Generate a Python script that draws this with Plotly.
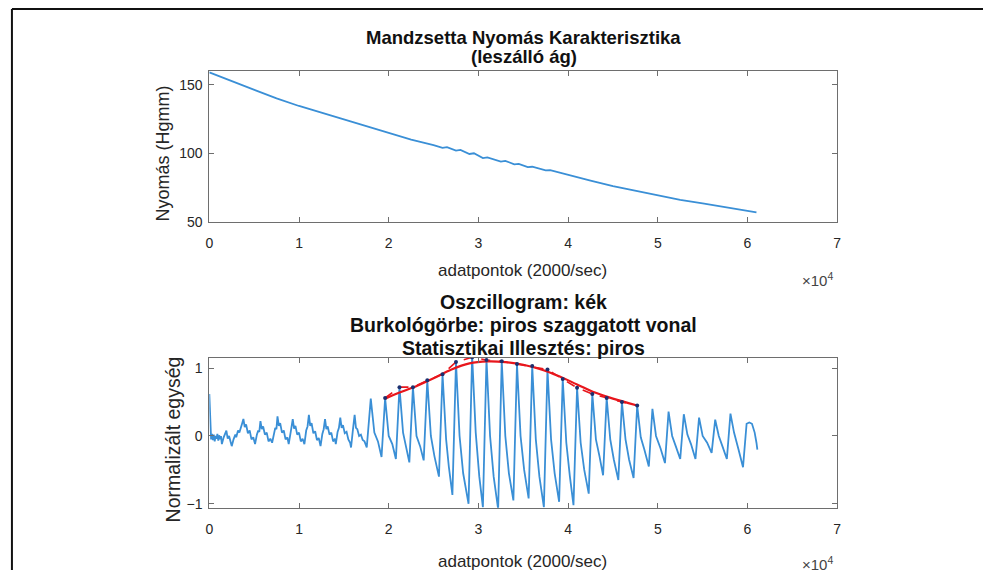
import plotly.graph_objects as go

W, H = 987, 578

# ---------------- data (x in units of 10^4 samples) ----------------
press_x = [0.00, 0.25, 0.50, 0.75, 1.00, 1.25, 1.50, 1.75, 2.00, 2.25, 2.50, 2.60, 2.65, 2.75, 2.80,
           2.90, 2.95, 3.05, 3.10, 3.25, 3.30, 3.40, 3.45, 3.55, 3.60, 3.75, 3.80, 3.95, 4.00, 4.25,
           4.50, 4.75, 5.00, 5.25, 5.50, 5.75, 6.00, 6.10]
press_y = [159.0, 152.5, 146.0, 140.0, 134.5, 129.5, 124.5, 119.5, 114.5, 110.0, 106.0, 104.0, 104.5, 102.0, 102.5,
           99.5, 100.0, 96.5, 97.0, 94.0, 94.5, 92.0, 92.3, 90.0, 90.2, 87.5, 87.7, 85.0, 84.0, 80.0,
           76.0, 72.5, 69.0, 66.0, 63.5, 61.0, 58.0, 57.0]

osc_x = [0.000, 0.006, 0.012, 0.02, 0.03, 0.04, 0.05, 0.06, 0.07, 0.08, 0.09, 0.10, 0.11, 0.12, 0.13,
         0.14, 0.16, 0.175, 0.19, 0.205, 0.22, 0.24, 0.25, 0.27, 0.29, 0.30, 0.32, 0.335, 0.35, 0.365,
         0.38, 0.395, 0.41, 0.43, 0.45, 0.47, 0.49, 0.51, 0.53, 0.545, 0.557, 0.57, 0.585, 0.60, 0.62,
         0.64, 0.66, 0.68, 0.70, 0.72, 0.735, 0.748, 0.76, 0.775, 0.79, 0.81, 0.83, 0.85, 0.87, 0.885,
         0.90, 0.915, 0.93, 0.945, 0.96, 0.98, 1.00, 1.02, 1.04, 1.06, 1.08, 1.095, 1.11, 1.125, 1.14,
         1.16, 1.18, 1.20, 1.22, 1.24, 1.26, 1.275, 1.29, 1.305, 1.32, 1.34, 1.36, 1.38, 1.40, 1.41,
         1.43, 1.445, 1.46, 1.475, 1.49, 1.51, 1.53, 1.55, 1.57, 1.58, 1.60, 1.62, 1.635, 1.65, 1.67,
         1.69, 1.71, 1.73, 1.755, 1.77, 1.80,
         1.84, 1.88, 1.92, 1.96, 2.00, 2.04, 2.08, 2.12, 2.16, 2.19, 2.23, 2.27, 2.31, 2.35, 2.39,
         2.43, 2.47, 2.51, 2.56, 2.60, 2.64, 2.67, 2.71, 2.75, 2.79, 2.83, 2.89, 2.93, 2.97, 3.01,
         3.05, 3.09, 3.13, 3.17, 3.22, 3.26, 3.30, 3.34, 3.39, 3.43, 3.47, 3.51, 3.56, 3.60, 3.64,
         3.68, 3.73, 3.77, 3.81, 3.85, 3.90, 3.94, 3.98, 4.02, 4.06, 4.10, 4.14, 4.18, 4.23, 4.27,
         4.31, 4.35, 4.39, 4.43, 4.47, 4.51, 4.56, 4.60, 4.64, 4.68, 4.73, 4.77, 4.81, 4.85, 4.90,
         4.94, 4.98, 5.03, 5.08, 5.12, 5.16, 5.20, 5.25, 5.29, 5.33, 5.37, 5.42, 5.46, 5.50, 5.55,
         5.60, 5.64, 5.68, 5.72, 5.77, 5.81, 5.85, 5.90, 5.95, 5.99, 6.02, 6.05, 6.08, 6.10, 6.11]
osc_y = [0.62, 0.30, 0.05, -0.05, 0.03, -0.06, 0.02, -0.08, 0.00, -0.04, 0.03, -0.07, 0.01, -0.05, 0.00,
         -0.12, -0.02, 0.04, 0.08, -0.04, 0.00, -0.10, -0.15, -0.05, 0.02, -0.02, 0.08, 0.05, 0.14, 0.18,
         0.25, 0.13, 0.17, 0.04, 0.08, -0.05, -0.02, -0.12, 0.02, 0.08, 0.06, 0.22, 0.10, 0.14, 0.02,
         0.05, -0.08, -0.04, -0.10, 0.06, 0.12, 0.10, 0.29, 0.15, 0.19, 0.05, 0.08, -0.05, -0.02, -0.12,
         0.04, 0.12, 0.25, 0.11, 0.15, 0.02, 0.05, -0.08, -0.04, -0.12, 0.08, 0.14, 0.31, 0.15, 0.19,
         0.04, 0.07, -0.06, -0.03, -0.15, 0.03, 0.10, 0.25, 0.10, 0.14, 0.02, 0.05, -0.08, -0.04, -0.12,
         0.06, 0.12, 0.27, 0.12, 0.16, 0.04, 0.06, -0.05, -0.10, -0.17, 0.08, 0.31, 0.12, 0.10, 0.00,
         0.02, -0.06, -0.08, -0.17, 0.10, 0.55,
         0.05, -0.08, -0.31, 0.56, 0.00, -0.12, -0.34, 0.72, 0.05, -0.15, -0.39, 0.72, 0.00, -0.15, -0.36,
         0.82, 0.00, -0.30, -0.60, 0.91, -0.05, -0.45, -0.87, 1.09, 0.00, -0.55, -1.00, 1.18, 0.05, -0.60,
         -1.05, 1.13, 0.00, -0.60, -1.08, 1.11, 0.00, -0.55, -0.95, 1.06, 0.00, -0.50, -0.92, 1.03, -0.05,
         -0.60, -1.05, 0.98, -0.05, -0.55, -0.97, 0.84, -0.10, -0.60, -1.02, 0.71, -0.10, -0.50, -0.85, 0.62,
         -0.05, -0.30, -0.58, 0.56, -0.05, -0.35, -0.65, 0.50, -0.05, -0.35, -0.62, 0.45, -0.02, -0.20, -0.45,
         0.40, 0.00, -0.18, -0.40, 0.36, 0.00, -0.15, -0.34, 0.32, 0.02, -0.12, -0.34, 0.27, 0.00, -0.10,
         -0.25, 0.24, 0.00, -0.15, -0.34, 0.33, 0.05, -0.20, -0.46, 0.18, 0.20, 0.18, 0.05, -0.10, -0.20]

env_x = [1.96, 2.12, 2.27, 2.43, 2.60, 2.75, 2.93, 3.09, 3.26, 3.43, 3.60, 3.77, 3.94, 4.10, 4.27, 4.43, 4.60, 4.77]
env_y = [0.56, 0.72, 0.72, 0.82, 0.91, 1.09, 1.16, 1.12, 1.10, 1.06, 1.03, 0.98, 0.84, 0.71, 0.62, 0.56, 0.50, 0.45]

fit_x = [1.96, 2.10, 2.30, 2.50, 2.70, 2.90, 3.10, 3.30, 3.50, 3.70, 3.90, 4.10, 4.30, 4.50, 4.77]
fit_y = [0.55, 0.63, 0.73, 0.85, 0.98, 1.07, 1.10, 1.09, 1.05, 0.98, 0.88, 0.76, 0.64, 0.55, 0.45]

x_ticks = [0, 1, 2, 3, 4, 5, 6, 7]
top_yticks = [50, 100, 150]
bot_yticks = [-1, 0, 1]

# ---------------- styling ----------------
BLUE = "#3a8fd6"
RED = "#e8161c"
AXC = "#6e6e6e"
TXT = "#262626"
FONT = "Liberation Sans, Arial, sans-serif"

def px(x):
    return x / W

def py(y):
    return 1 - y / H

fig = go.Figure()
fig.add_trace(go.Scatter(x=press_x, y=press_y, mode="lines", line=dict(color=BLUE, width=1.8),
                         xaxis="x", yaxis="y", showlegend=False))
fig.add_trace(go.Scatter(x=osc_x, y=osc_y, mode="lines", line=dict(color=BLUE, width=1.8),
                         xaxis="x2", yaxis="y2", showlegend=False))
fig.add_trace(go.Scatter(x=fit_x, y=fit_y, mode="lines", line=dict(color=RED, width=2.2, shape="spline"),
                         xaxis="x2", yaxis="y2", showlegend=False))
fig.add_trace(go.Scatter(x=env_x, y=env_y, mode="lines+markers",
                         line=dict(color=RED, width=1.6, dash="dash"),
                         marker=dict(color="#1d2f6e", size=4),
                         xaxis="x2", yaxis="y2", showlegend=False))

axis_common = dict(showline=True, linecolor=AXC, linewidth=1, mirror="ticks", ticks="inside",
                   ticklen=5, tickcolor=AXC, showgrid=False, zeroline=False,
                   tickfont=dict(family=FONT, size=14, color=TXT))

xdom = [px(207), px(840)]
fig.update_layout(
    width=W, height=H, autosize=False,
    margin=dict(l=0, r=0, t=0, b=0),
    paper_bgcolor="white", plot_bgcolor="white",
    xaxis=dict(domain=xdom, range=[0, 7], tickvals=x_ticks, anchor="y", ticklabelstandoff=8, **axis_common),
    yaxis=dict(domain=[py(225), py(72)], range=[50, 160], tickvals=top_yticks, anchor="x",
               ticklabelstandoff=3, **axis_common),
    xaxis2=dict(domain=xdom, range=[0, 7], tickvals=x_ticks, anchor="y2", ticklabelstandoff=8, **axis_common),
    yaxis2=dict(domain=[py(515), py(363)], range=[-1.06, 1.15], tickvals=bot_yticks, anchor="x2",
                ticklabelstandoff=3, **axis_common),
)

anns = []
def ann(text, x, y, size, bold=False, angle=0, xanchor="center", color=None):
    t = f"<b>{text}</b>" if bold else text
    anns.append(dict(text=t, x=px(x), y=py(y), xref="paper", yref="paper", showarrow=False,
                     xanchor=xanchor, yanchor="middle", textangle=angle,
                     font=dict(family=FONT, size=size, color=color or ("#111111" if bold else TXT))))

ann("Mandzsetta Nyomás Karakterisztika", 524, 38, 18.5, bold=True)
ann("(leszálló ág)", 524, 57, 18.5, bold=True)
ann("adatpontok (2000/sec)", 523, 274, 17)
ann("×10<sup>4</sup>", 838, 283, 15, xanchor="right", color="#444444")
ann("Nyomás (Hgmm)", 160, 156, 18, angle=-90)

ann("Oszcillogram: kék", 524, 306, 19.5, bold=True)
ann("Burkológörbe: piros szaggatott vonal", 524, 330, 19.5, bold=True)
ann("Statisztikai Illesztés: piros", 524, 353, 19.5, bold=True)
ann("adatpontok (2000/sec)", 523, 569, 17)
ann("×10<sup>4</sup>", 838, 571, 15, xanchor="right", color="#444444")
ann("Normalizált egység", 170, 446, 19.5, angle=-90)

fig.update_layout(annotations=anns)

# outer frame lines of the picture
fig.update_layout(shapes=[
    dict(type="line", xref="paper", yref="paper", x0=px(8), x1=1, y0=py(9), y1=py(9),
         line=dict(color="#111111", width=2)),
    dict(type="line", xref="paper", yref="paper", x0=px(8), x1=px(8), y0=0, y1=py(9),
         line=dict(color="#111111", width=2)),
])

fig.write_html("out.html")
